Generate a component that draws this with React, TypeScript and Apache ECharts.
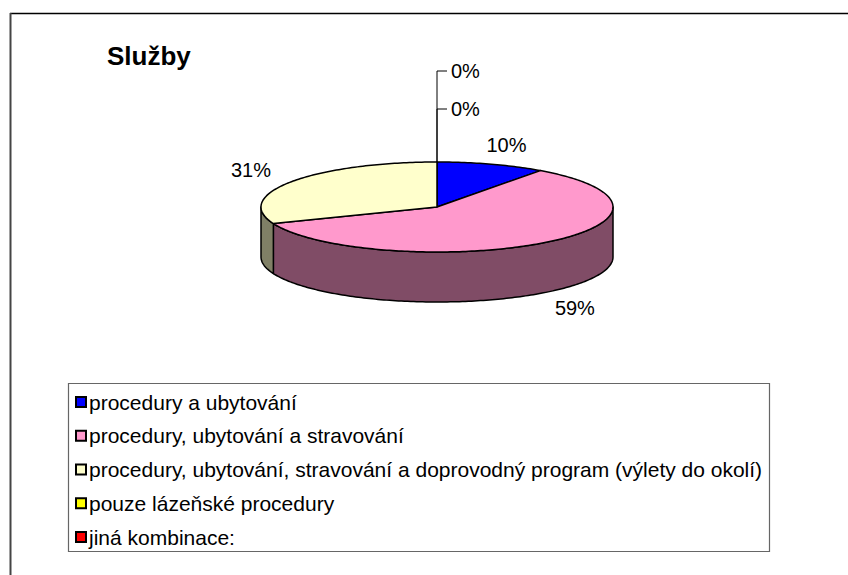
import React, { useEffect, useRef } from "react";
import * as echarts from "echarts";

const categories = [
  "procedury a ubytování",
  "procedury, ubytování a stravování",
  "procedury, ubytování, stravování a doprovodný program (výlety do okolí)",
  "pouze lázeňské procedury",
  "jiná kombinace:",
];
const values = [10, 59, 31, 0, 0];
const topColors = ["#0000FF", "#FF99CC", "#FFFFCC", "#FFFF00", "#FF0000"];
const sideColors = ["#000080", "#804C66", "#808066", "#808000", "#800000"];
const titleText = "Služby";

const FONT = "'Liberation Sans', Arial, sans-serif";

export default function App() {
  const ref = useRef<HTMLDivElement>(null);
  useEffect(() => {
    if (!ref.current) return;
    const chart = echarts.init(ref.current, undefined, { renderer: "svg" });
    const total = values.reduce((a, b) => a + b, 0);
    const cx = 437, cy = 207, rx = 176, ry = 45, depth = 50;
    const lrx = 225, lry = 65;
    const pt = (deg: number, dy = 0): number[] => {
      const r = (deg * Math.PI) / 180;
      return [cx + rx * Math.sin(r), cy - ry * Math.cos(r) + dy];
    };
    const arc = (a: number, b: number, dy = 0): number[][] => {
      const pts: number[][] = [];
      const n = Math.max(2, Math.ceil(Math.abs(b - a)));
      for (let k = 0; k <= n; k++) pts.push(pt(a + ((b - a) * k) / n, dy));
      return pts;
    };

    const series = categories.map((name, i) => ({
      type: "custom",
      name,
      coordinateSystem: "none",
      itemStyle: { color: topColors[i] },
      data: [values[i]],
      renderItem: (params: any, api: any) => {
        const idx = params.seriesIndex;
        const v = api.value(0);
        let before = 0;
        for (let j = 0; j < idx; j++) before += values[j];
        const a = (before / total) * 360;
        const b = ((before + v) / total) * 360;
        const pct = Math.round((v / total) * 100) + "%";
        const children: any[] = [];
        if (v > 0) {
          const lo = Math.max(a, 90), hi = Math.min(b, 270);
          if (hi > lo) {
            const top = arc(lo, hi);
            const bottom = arc(hi, lo, depth);
            children.push({
              type: "polygon",
              shape: { points: top.concat(bottom) },
              style: { fill: sideColors[idx], stroke: "#000", lineWidth: 1.5, lineJoin: "round" },
            });
          }
          children.push({
            type: "polygon",
            shape: { points: [[cx, cy]].concat(arc(a, b)) },
            style: { fill: topColors[idx], stroke: "#000", lineWidth: 1.5, lineJoin: "round" },
          });
          const m = ((a + b) / 2) * (Math.PI / 180);
          const lx = cx + lrx * Math.sin(m);
          const ly = cy - lry * Math.cos(m) + (Math.cos(m) < 0 ? depth : 0);
          children.push({
            type: "text",
            style: {
              text: pct, x: lx, y: ly, fill: "#000",
              fontSize: 20, fontFamily: FONT, align: "center", verticalAlign: "middle",
            },
          });
        } else {
          let k = 0;
          for (let j = 0; j < idx; j++) if (values[j] === 0) k++;
          const p = pt(a);
          const ty = 109 - k * 38;
          children.push({
            type: "polyline",
            shape: { points: [[p[0], p[1]], [p[0], ty], [p[0] + 10, ty]] },
            style: { stroke: "#000", lineWidth: 1, fill: null },
          });
          children.push({
            type: "text",
            style: {
              text: pct, x: p[0] + 14, y: ty, fill: "#000",
              fontSize: 20, fontFamily: FONT, align: "left", verticalAlign: "middle",
            },
          });
        }
        return { type: "group", children };
      },
    }));

    const legLeft = 76, legTop = 391, rowH = 22, gap = 11.75, icon = 10;
    const markerFrames = categories.map((_, i) => ({
      type: "rect",
      shape: { x: legLeft, y: legTop + i * (rowH + gap) + (rowH - icon) / 2, width: icon, height: icon },
      style: { fill: "none", stroke: "#000", lineWidth: 2 },
      z: 100,
      silent: true,
    }));

    chart.setOption({
      animation: false,
      backgroundColor: "#fff",
      title: {
        text: titleText,
        left: 102,
        top: 38,
        textStyle: { fontSize: 26, fontWeight: "bold", fontFamily: FONT, color: "#000" },
      },
      legend: {
        orient: "vertical",
        left: legLeft,
        top: legTop,
        padding: 0,
        itemWidth: icon,
        itemHeight: icon,
        itemGap: gap,
        icon: "rect",
        textStyle: { fontSize: 21, fontFamily: FONT, color: "#000", lineHeight: rowH, padding: [0, 0, 0, -2] },
        selectedMode: false,
        data: categories,
      },
      graphic: [
        { type: "line", shape: { x1: 10, y1: 13.5, x2: 848, y2: 13.5 }, style: { stroke: "#000", lineWidth: 1.5 } },
        { type: "line", shape: { x1: 10.5, y1: 13, x2: 10.5, y2: 575 }, style: { stroke: "#444", lineWidth: 2 } },
        {
          type: "rect",
          shape: { x: 68.5, y: 383.5, width: 701, height: 168 },
          style: { fill: "none", stroke: "#666", lineWidth: 1.2 },
          z: -1,
        },
        ...markerFrames,
      ],
      series,
    });
    return () => chart.dispose();
  }, []);
  return (
    <div
      ref={ref}
      style={{ position: "fixed", left: 0, top: 0, width: 848, height: 575 }}
    />
  );
}
